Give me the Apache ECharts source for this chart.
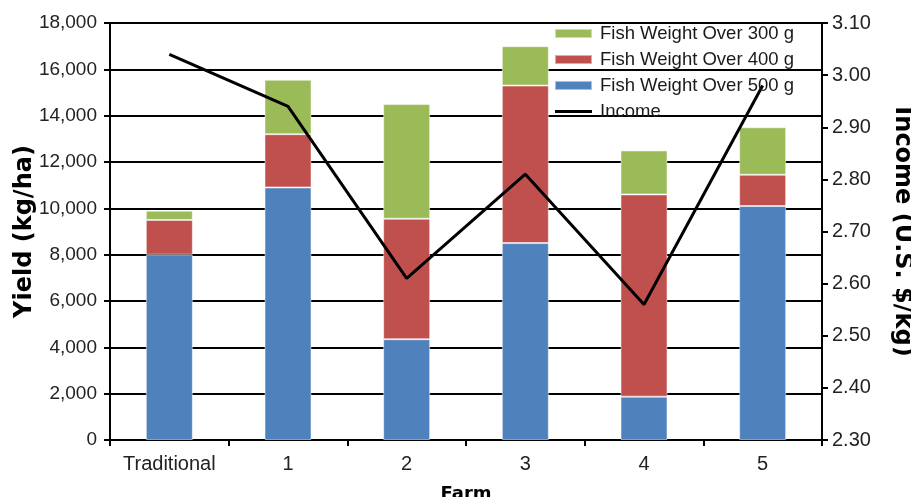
<!DOCTYPE html>
<html>
<head>
<meta charset="utf-8">
<script src="https://cdn.jsdelivr.net/npm/echarts@6/dist/echarts.min.js"></script>
<style>html,body{margin:0;padding:0;background:#fff;}#c{width:911px;height:497px;}</style>
</head>
<body>
<div id="c"></div>
<script>
const categories = ['Traditional', '1', '2', '3', '4', '5'];
const over500 = [8000, 10900, 4350, 8500, 1870, 10100];
const over400 = [1500, 2300, 5200, 6800, 8730, 1350];
const over300 = [400, 2350, 4950, 1700, 1900, 2050];
const income = [3.04, 2.94, 2.61, 2.81, 2.56, 2.98];
const seriesNames = ['Fish Weight Over 500 g', 'Fish Weight Over 400 g', 'Fish Weight Over 300 g', 'Income'];
const legendOrder = ['Fish Weight Over 300 g', 'Fish Weight Over 400 g', 'Fish Weight Over 500 g', 'Income'];

const chart = echarts.init(document.getElementById('c'));
const labelFont = 'Liberation Sans, Arial, sans-serif';
const titleFont = 'DejaVu Sans, sans-serif';
const barBorder = {borderColor: 'rgba(255,255,255,0.5)', borderWidth: 1};
chart.setOption({
  animation: false,
  grid: {left: 110, right: 89, top: 23, bottom: 57, outerBoundsMode: 'none', containLabel: false},
  legend: {
    data: legendOrder.map(n => n === 'Income'
      ? {name: n, icon: 'path://M0,0 L37,0 L37,3 L0,3 Z'}
      : {name: n, icon: 'rect'}),
    orient: 'vertical',
    left: 554, top: 24, padding: 0,
    itemWidth: 37, itemHeight: 9, itemGap: 7,
    textStyle: {fontFamily: labelFont, fontSize: 18.5, color: '#1a1a1a', padding: [0, 0, 0, 3]}
  },
  xAxis: {
    type: 'category',
    data: categories,
    name: 'Farm',
    nameLocation: 'middle',
    nameGap: 45,
    nameMoveOverlap: false,
    nameTextStyle: {fontFamily: titleFont, fontWeight: 'bold', fontSize: 18, color: '#000'},
    axisLine: {lineStyle: {color: '#000', width: 2}},
    axisTick: {show: true, interval: 0, length: 6, lineStyle: {color: '#000', width: 2}},
    axisLabel: {interval: 0, fontFamily: labelFont, fontSize: 20, color: '#222', margin: 14}
  },
  yAxis: [{
    type: 'value',
    min: 0, max: 18000, interval: 2000,
    name: 'Yield (kg/ha)',
    nameLocation: 'middle',
    nameGap: 73,
    nameRotate: 90,
    nameMoveOverlap: false,
    nameTextStyle: {fontFamily: titleFont, fontWeight: 'bold', fontSize: 24, color: '#000'},
    axisLine: {show: true, lineStyle: {color: '#000', width: 2}},
    axisTick: {show: true, length: 6, lineStyle: {color: '#000', width: 2}},
    splitLine: {show: true, lineStyle: {color: '#000', width: 2}},
    axisLabel: {
      fontFamily: labelFont, fontSize: 19, color: '#222', margin: 13,
      formatter: v => v.toLocaleString('en-US')
    }
  }, {
    type: 'value',
    min: 2.3, max: 3.1, interval: 0.1,
    position: 'right',
    name: 'Income (U.S. $/kg)',
    nameLocation: 'middle',
    nameGap: 68,
    nameRotate: -90,
    nameMoveOverlap: false,
    nameTextStyle: {fontFamily: titleFont, fontWeight: 'bold', fontSize: 24, color: '#000'},
    axisLine: {show: true, lineStyle: {color: '#000', width: 2}},
    axisTick: {show: true, length: 6, lineStyle: {color: '#000', width: 2}},
    splitLine: {show: false},
    axisLabel: {
      fontFamily: labelFont, fontSize: 20, color: '#222', margin: 10,
      formatter: v => v.toFixed(2)
    }
  }],
  series: [{
    name: seriesNames[0], type: 'bar', stack: 'yield', data: over500, barWidth: 47,
    itemStyle: Object.assign({color: '#4F81BD'}, barBorder)
  }, {
    name: seriesNames[1], type: 'bar', stack: 'yield', data: over400, barWidth: 47,
    itemStyle: Object.assign({color: '#C0504D'}, barBorder)
  }, {
    name: seriesNames[2], type: 'bar', stack: 'yield', data: over300, barWidth: 47,
    itemStyle: Object.assign({color: '#9BBB59'}, barBorder)
  }, {
    name: seriesNames[3], type: 'line', yAxisIndex: 1, data: income,
    symbol: 'none', lineStyle: {color: '#000', width: 3}, itemStyle: {color: '#000'}
  }]
});
</script>
</body>
</html>
